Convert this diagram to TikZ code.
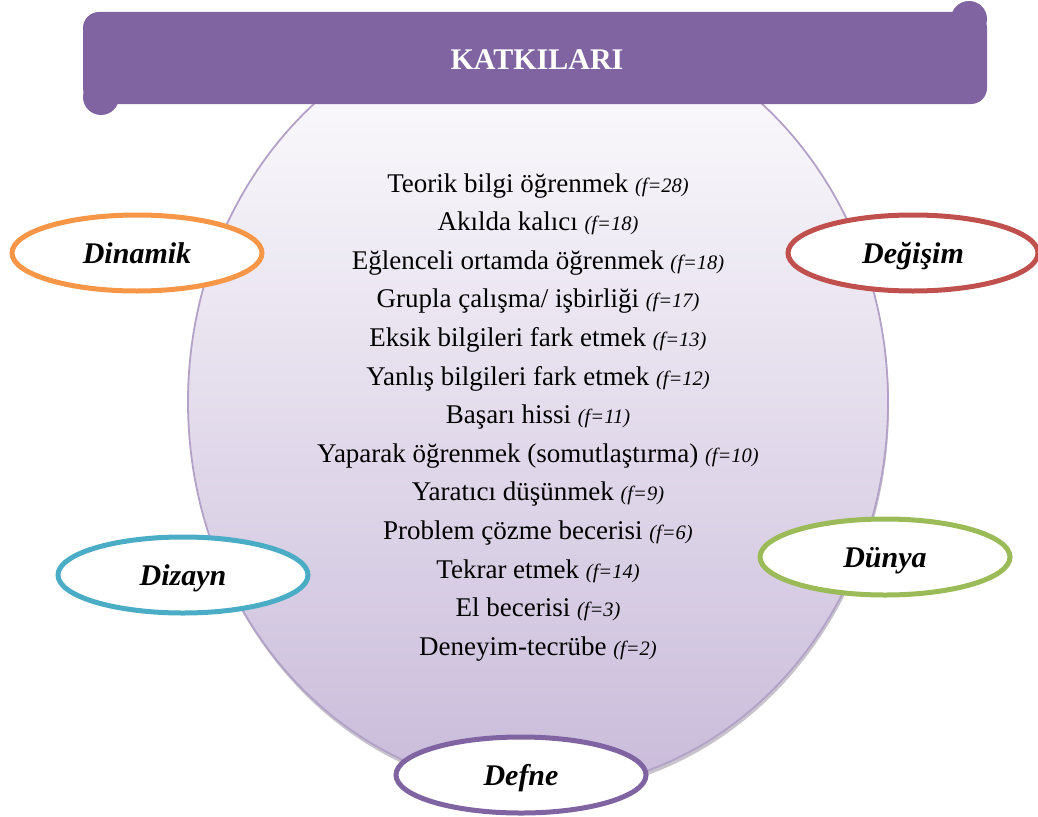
\documentclass[tikz,border=0pt]{standalone}
\usepackage{fontspec}
\setmainfont{Liberation Serif}
\usetikzlibrary{shapes.geometric}
\definecolor{banner}{HTML}{8064A2}
\definecolor{rim}{HTML}{B3A2C7}
\definecolor{lowfill}{HTML}{C9BBDA}
\definecolor{cOrange}{HTML}{F79646}
\definecolor{cRed}{HTML}{C0504D}
\definecolor{cBlue}{HTML}{4BACC6}
\definecolor{cGreen}{HTML}{9BBB59}
\definecolor{cPurple}{HTML}{8064A2}
\tikzset{
  tag/.style={ellipse, draw=#1, line width=5pt, fill=white,
    minimum width=250pt, minimum height=76pt, inner sep=0pt,
    text height=26pt, text depth=6pt,
    font=\fontsize{30}{34}\selectfont\bfseries\itshape},
  item/.style={anchor=base, inner sep=0pt, font=\fontsize{27}{31}\selectfont},
}
\newcommand{\fq}[1]{{\fontsize{20.5}{24}\selectfont\itshape (f=#1)}}
\begin{document}
\begin{tikzpicture}[x=1pt,y=-1pt]
\useasboundingbox (0,0) rectangle (1038,816);
% central oval with soft shadow
\fill[gray!55!lowfill, opacity=0.6] (539,406) ellipse[x radius=350, y radius=388];
\shade[top color=white, bottom color=lowfill, draw=rim, line width=1.8pt]
  (538,402) ellipse[x radius=350, y radius=388];
% title scroll
\fill[banner] (101,97) circle[radius=18];
\fill[banner] (969,19) circle[radius=18];
\fill[banner, rounded corners=16pt] (83,12) rectangle (987,104);
\node[text=white, font=\fontsize{30}{34}\selectfont\bfseries] (title) at (537,60) {KATKILARI};
% list of contributions
\node[item] (l1) at (538,192) {Teorik bilgi öğrenmek \fq{28}};
\node[item] (l2) at (538,230.6) {Akılda kalıcı \fq{18}};
\node[item] (l3) at (538,269.2) {Eğlenceli ortamda öğrenmek \fq{18}};
\node[item] (l4) at (538,307.8) {Grupla çalışma/ işbirliği \fq{17}};
\node[item] (l5) at (538,346.4) {Eksik bilgileri fark etmek \fq{13}};
\node[item] (l6) at (538,385) {Yanlış bilgileri fark etmek \fq{12}};
\node[item] (l7) at (538,423.6) {Başarı hissi \fq{11}};
\node[item] (l8) at (538,462.2) {Yaparak öğrenmek (somutlaştırma) \fq{10}};
\node[item] (l9) at (538,500.8) {Yaratıcı düşünmek \fq{9}};
\node[item] (l10) at (538,539.4) {Problem çözme becerisi \fq{6}};
\node[item] (l11) at (538,578) {Tekrar etmek \fq{14}};
\node[item] (l12) at (538,616.6) {El becerisi \fq{3}};
\node[item] (l13) at (538,655.2) {Deneyim-tecrübe \fq{2}};
% surrounding name tags
\node[tag=cOrange] (dinamik) at (137,253) {Dinamik};
\node[tag=cRed] (degisim) at (913,253) {Değişim};
\node[tag=cBlue] (dizayn) at (183,575) {Dizayn};
\node[tag=cGreen] (dunya) at (885,557) {Dünya};
\node[tag=cPurple] (defne) at (521,775) {Defne};
\end{tikzpicture}
\end{document}
